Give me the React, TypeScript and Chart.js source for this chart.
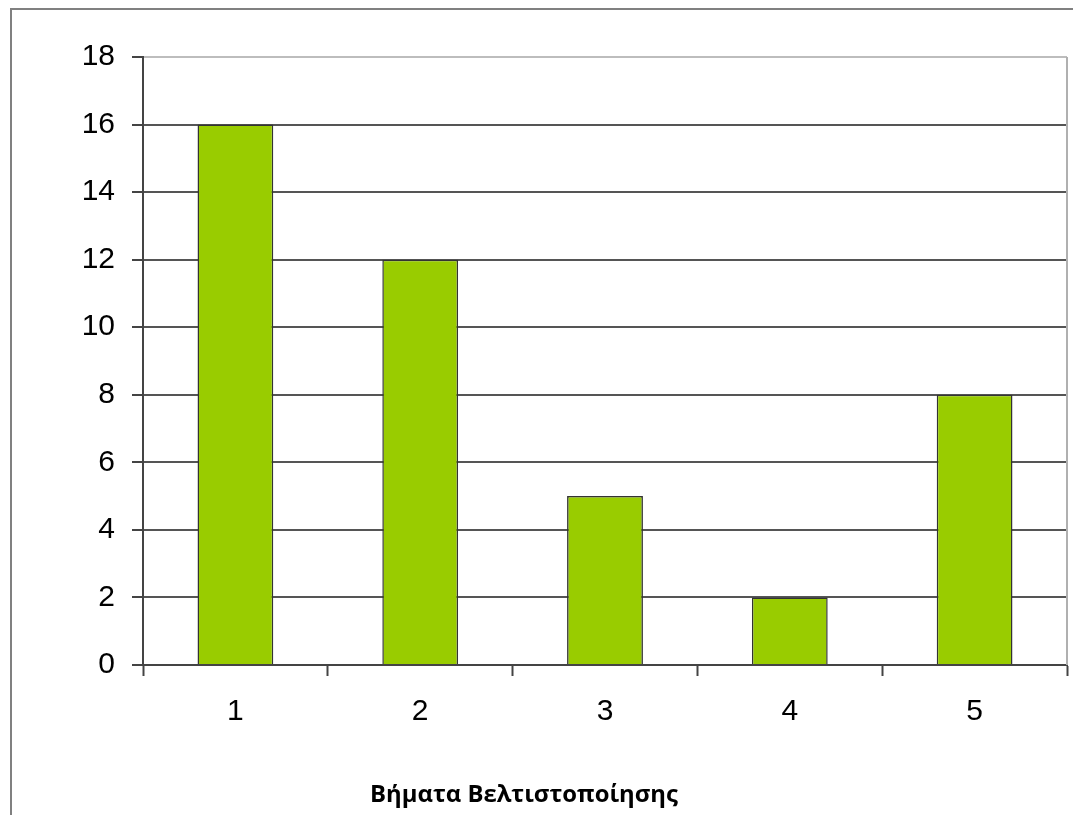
import React, { useEffect, useRef } from "react";
import { Chart, registerables } from "chart.js";

Chart.register(...registerables);

const categories = ["1", "2", "3", "4", "5"];
const values = [16, 12, 5, 2, 8];
const yTicks = [0, 2, 4, 6, 8, 10, 12, 14, 16, 18];
const xTitle = "Βήματα Βελτιστοποίησης";

const W = 1065;
const H = 807;

export default function App() {
  const ref = useRef<HTMLCanvasElement | null>(null);

  useEffect(() => {
    const canvas = ref.current;
    if (!canvas) return;

    const framePlugin = {
      id: "framePlugin",
      afterDatasetsDraw(chart: any) {
        const { ctx, chartArea } = chart;
        ctx.save();
        ctx.strokeStyle = "#b0b0b0";
        ctx.lineWidth = 2;
        ctx.beginPath();
        ctx.moveTo(chartArea.right, chartArea.top);
        ctx.lineTo(chartArea.right, chartArea.bottom);
        ctx.stroke();
        ctx.restore();
      },
      afterDraw(chart: any) {
        const { ctx, chartArea } = chart;
        ctx.save();
        const family = '"Open Sans", "Noto Sans", sans-serif';
        ctx.font = `bold 20px ${family}`;
        const w20 = ctx.measureText(xTitle).width;
        const size = (20 * 308) / w20;
        ctx.font = `bold ${size}px ${family}`;
        ctx.fillStyle = "#000";
        ctx.textAlign = "center";
        ctx.textBaseline = "alphabetic";
        ctx.fillText(xTitle, chartArea.left + 381, chartArea.bottom + 137);
        ctx.restore();
      },
    };

    const tickFont = { family: '"Liberation Sans", Arial, sans-serif', size: 30 };

    const chart = new Chart(canvas, {
      type: "bar",
      data: {
        labels: categories,
        datasets: [
          {
            data: values,
            backgroundColor: "#99cc00",
            borderColor: "#333333",
            borderWidth: 1.5,
            categoryPercentage: 1,
            barPercentage: 0.41,
          },
        ],
      },
      options: {
        responsive: false,
        animation: false,
        devicePixelRatio: 1,
        layout: { padding: { top: 49, right: 6, left: 0, bottom: 0 } },
        plugins: {
          legend: { display: false },
          tooltip: { enabled: false },
          title: { display: false },
        },
        scales: {
          x: {
            offset: true,
            grid: {
              offset: true,
              display: true,
              drawOnChartArea: false,
              drawTicks: true,
              tickLength: 11,
              tickColor: "#444",
              tickWidth: 2,
            },
            border: { display: true, color: "#444", width: 2 },
            ticks: {
              color: "#000",
              padding: 18,
              font: tickFont,
            },
            afterFit(scale: any) {
              scale.height = 150;
            },
          },
          y: {
            min: 0,
            max: 18,
            afterBuildTicks(scale: any) {
              scale.ticks = yTicks.map((v) => ({ value: v }));
            },
            grid: {
              color: (ctx: any) => (ctx.tick && ctx.tick.value === 18 ? "#bdbdbd" : "#555"),
              lineWidth: 2,
              drawTicks: true,
              tickLength: 11,
              tickColor: "#444",
              tickWidth: 2,
            },
            border: { display: true, color: "#444", width: 2 },
            ticks: {
              color: "#000",
              padding: 17,
              font: tickFont,
            },
            afterFit(scale: any) {
              scale.width = 135;
            },
          },
        },
      },
      plugins: [framePlugin],
    } as any);

    return () => chart.destroy();
  }, []);

  return (
    <div style={{ position: "relative", width: W, height: H, overflow: "hidden" }}>
      <div
        style={{
          position: "absolute",
          left: 2,
          top: 0,
          width: 3000,
          height: 3000,
          borderTop: "2px solid #808080",
          borderLeft: "2px solid #808080",
        }}
      />
      <canvas
        ref={ref}
        width={W}
        height={H}
        style={{ position: "absolute", left: 0, top: 0, width: W, height: H }}
      />
    </div>
  );
}
